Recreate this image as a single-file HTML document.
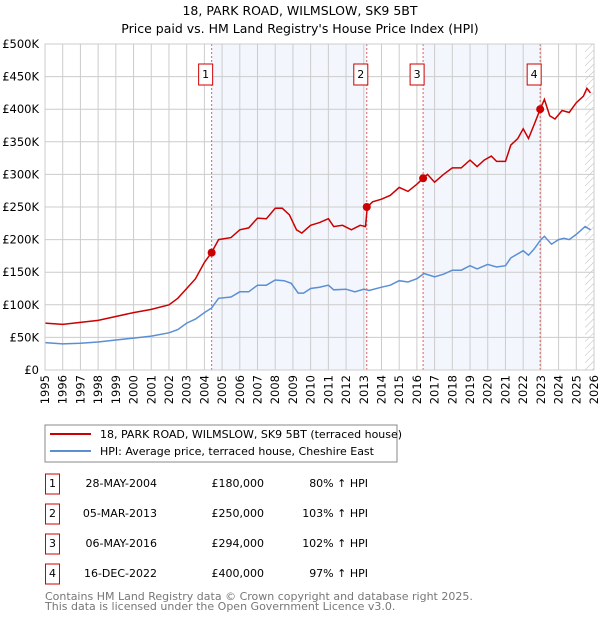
<!DOCTYPE html>
<html><head><meta charset="utf-8"><style>
body{margin:0;background:#fff;font-family:"Liberation Sans","DejaVu Sans",sans-serif;}
svg text{font-family:"DejaVu Sans","Liberation Sans",sans-serif;}
</style></head><body>
<svg id="c" width="600" height="620" xmlns="http://www.w3.org/2000/svg">
<defs><pattern id="hatch" width="5" height="5" patternUnits="userSpaceOnUse" patternTransform="rotate(45)"><line x1="0" y1="0" x2="0" y2="5" stroke="#bbb" stroke-width="1"/></pattern></defs>
<text x="300" y="15" text-anchor="middle" font-size="12.5">18, PARK ROAD, WILMSLOW, SK9 5BT</text>
<text x="300" y="33" text-anchor="middle" font-size="12.5">Price paid vs. HM Land Registry's House Price Index (HPI)</text>
<g id="plot"></g>
<rect x="45" y="425" width="352" height="37" fill="#fff" stroke="#888"/>
<line x1="50" y1="434" x2="91" y2="434" stroke="#cc0000" stroke-width="2"/>
<text x="100" y="438" font-size="11">18, PARK ROAD, WILMSLOW, SK9 5BT (terraced house)</text>
<line x1="50" y1="451" x2="91" y2="451" stroke="#5b8fd4" stroke-width="2"/>
<text x="100" y="455" font-size="11">HPI: Average price, terraced house, Cheshire East</text>
<g id="tbl" font-size="11"></g>
<text x="45" y="600" font-size="11" fill="#777">Contains HM Land Registry data © Crown copyright and database right 2025.</text>
<text x="45" y="610" font-size="11" fill="#777">This data is licensed under the Open Government Licence v3.0.</text>
</svg>
<script>
const years=[1995,1996,1997,1998,1999,2000,2001,2002,2003,2004,2005,2006,2007,2008,2009,2010,2011,2012,2013,2014,2015,2016,2017,2018,2019,2020,2021,2022,2023,2024,2025,2026];
const yTicks=[0,50,100,150,200,250,300,350,400,450,500];
const priceT=[1995,1996,1997,1998,1999,2000,2001,2002,2002.5,2003,2003.5,2004,2004.4,2004.8,2005.5,2006,2006.5,2007,2007.5,2008,2008.4,2008.8,2009.2,2009.5,2010,2010.5,2011,2011.3,2011.8,2012.3,2012.8,2013.1,2013.2,2013.5,2014,2014.5,2015,2015.5,2016,2016.35,2016.6,2017,2017.5,2018,2018.5,2019,2019.4,2019.8,2020.2,2020.5,2021,2021.3,2021.7,2022,2022.3,2022.6,2022.96,2023.2,2023.5,2023.8,2024.2,2024.6,2025,2025.4,2025.6,2025.8];
const priceV=[72,70,73,76,82,88,93,100,110,125,140,165,180,200,203,215,218,233,232,248,248,238,215,210,222,226,232,220,222,215,222,220,250,258,262,268,280,274,285,294,300,288,300,310,310,322,312,322,328,320,320,345,355,370,355,375,400,415,390,385,398,395,410,420,432,425];
const hpiT=[1995,1996,1997,1998,1999,2000,2001,2002,2002.5,2003,2003.5,2004,2004.4,2004.8,2005.5,2006,2006.5,2007,2007.5,2008,2008.5,2008.9,2009.3,2009.6,2010,2010.5,2011,2011.3,2012,2012.5,2013,2013.3,2014,2014.5,2015,2015.5,2016,2016.4,2017,2017.5,2018,2018.5,2019,2019.4,2020,2020.5,2021,2021.3,2022,2022.3,2022.6,2023,2023.2,2023.6,2024,2024.3,2024.6,2025,2025.5,2025.8];
const hpiV=[42,40,41,43,46,49,52,57,62,72,78,88,95,110,112,120,120,130,130,138,137,133,118,118,125,127,130,123,124,120,124,122,127,130,137,135,140,148,143,147,153,153,160,155,162,158,160,172,183,176,185,200,205,193,200,202,200,208,220,215];
const saleLabels=["1","2","3","4"];
const saleT=[2004.41,2013.17,2016.35,2022.96];
const saleV=[180,250,294,400];
const saleDates=["28-MAY-2004","05-MAR-2013","06-MAY-2016","16-DEC-2022"];
const salePrices=["£180,000","£250,000","£294,000","£400,000"];
const salePct=["80% ↑ HPI","103% ↑ HPI","102% ↑ HPI","97% ↑ HPI"];

const L=45,R=594,T=44,B=370;
const X=t=>L+(t-1995)/(2026-1995)*(R-L);
const Y=v=>B-v/500*(B-T);
const NS="http://www.w3.org/2000/svg";
const plot=document.getElementById('plot');
function mk(tag,at,parent){const e=document.createElementNS(NS,tag);for(const k in at)e.setAttribute(k,at[k]);(parent||plot).appendChild(e);return e;}
let e;
e=mk('rect',{x:L,y:T,width:R-L,height:B-T,fill:'#fff'});


[[0,1],[2,3]].forEach(p=>{
 e=mk('rect',{x:X(saleT[p[0]]),y:T,width:X(saleT[p[1]])-X(saleT[p[0]]),height:B-T,fill:'#eef3fc',opacity:0.7});
 
 
});
e=mk('rect',{x:X(2025.5),y:T,width:R-X(2025.5),height:B-T,fill:'url(#hatch)'});


years.forEach(y=>{
 e=mk('line',{x1:X(y),x2:X(y),y1:T,y2:B,stroke:'#ccc','stroke-width':1});
 
 
 e=mk('text',{x:0,y:0,transform:`translate(${X(y)+4},${B+5}) rotate(-90)`,'text-anchor':'end','font-size':11.5});
 e.textContent=y;
 
 
});
yTicks.forEach(v=>{
 e=mk('line',{x1:L,x2:R,y1:Y(v),y2:Y(v),stroke:'#ccc','stroke-width':1});
 
 
 e=mk('text',{x:39,y:Y(v)+4,'text-anchor':'end','font-size':11.5});
 e.textContent=v===0?'£0':'£'+v+'K';
 
 
});
saleT.forEach((t,i)=>{
 e=mk('line',{x1:X(t),x2:X(t),y1:T,y2:B,stroke:'#e06060','stroke-width':1,'stroke-dasharray':'2,2'});
 
 
 e=mk('rect',{x:X(t)-13,y:64,width:14,height:21,fill:'#fff',stroke:'#cc0000'});
 
 
 e=mk('text',{x:X(t)-6,y:78,'text-anchor':'middle','font-size':11});
 e.textContent=saleLabels[i];
 
 
});
function path(ts,vs){return ts.map((t,i)=>(i?'L':'M')+X(t).toFixed(1)+','+Y(vs[i]).toFixed(1)).join('');}
e=mk('path',{d:path(hpiT,hpiV),fill:'none',stroke:'#5b8fd4','stroke-width':1.5});


e=mk('path',{d:path(priceT,priceV),fill:'none',stroke:'#cc0000','stroke-width':1.5});


saleT.forEach((t,i)=>{
 e=mk('circle',{cx:X(t),cy:Y(saleV[i]),r:4,fill:'#cc0000'});
 
 
});
e=mk('rect',{x:L,y:T,width:R-L,height:B-T,fill:'none',stroke:'#ccc'});


const tbl=document.getElementById('tbl');
saleT.forEach((t,i)=>{
 const y=483+i*30;
 e=mk('rect',{x:45.5,y:y-9,width:14,height:20,fill:'#fff',stroke:'#cc0000'},tbl);
 
 
 e=mk('text',{x:52.5,y:y+4,'text-anchor':'middle'},tbl);e.textContent=saleLabels[i];
 
 
 e=mk('text',{x:157,y:y+4,'text-anchor':'end'},tbl);e.textContent=saleDates[i];
 
 
 e=mk('text',{x:264,y:y+4,'text-anchor':'end'},tbl);e.textContent=salePrices[i];
 
 
 e=mk('text',{x:368,y:y+4,'text-anchor':'end'},tbl);e.textContent=salePct[i];
 
 
});
</script>
</body></html>
